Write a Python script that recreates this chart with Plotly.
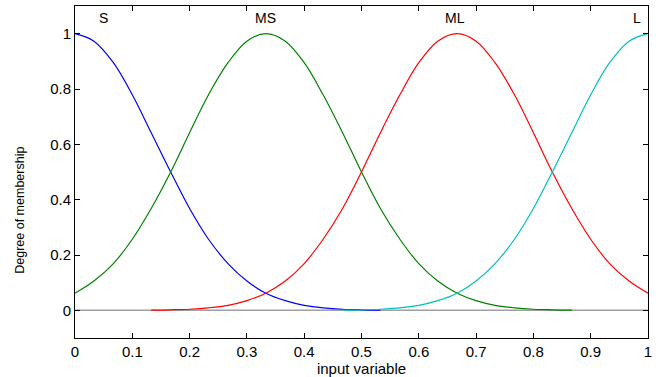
import plotly.graph_objects as go

x_vals = [0, 0.033, 0.067, 0.1, 0.133, 0.167, 0.2, 0.233, 0.267, 0.3,
          0.333, 0.367, 0.4, 0.433, 0.467, 0.5, 0.533, 0.567, 0.6, 0.633,
          0.667, 0.7, 0.733, 0.767, 0.8, 0.833, 0.867, 0.9, 0.933, 0.967, 1.0]

mf_S = [1.0, 0.973, 0.895, 0.779, 0.642, 0.5, 0.368, 0.257, 0.169, 0.106,
        0.062, 0.035, 0.018, 0.009, 0.004, 0.002, 0.001, None, None, None,
        None, None, None, None, None, None, None, None, None, None, None]
mf_MS = [0.062, 0.106, 0.169, 0.257, 0.368, 0.5, 0.642, 0.779, 0.895, 0.973,
         1.0, 0.973, 0.895, 0.779, 0.642, 0.5, 0.368, 0.257, 0.169, 0.106,
         0.062, 0.035, 0.018, 0.009, 0.004, 0.002, 0.001, None, None, None, None]
mf_ML = [None, None, None, None, 0.001, 0.002, 0.004, 0.009, 0.018, 0.035,
         0.062, 0.106, 0.169, 0.257, 0.368, 0.5, 0.642, 0.779, 0.895, 0.973,
         1.0, 0.973, 0.895, 0.779, 0.642, 0.5, 0.368, 0.257, 0.169, 0.106, 0.062]
mf_L = [None, None, None, None, None, None, None, None, None, None,
        None, None, None, None, 0.001, 0.002, 0.004, 0.009, 0.018, 0.035,
        0.062, 0.106, 0.169, 0.257, 0.368, 0.5, 0.642, 0.779, 0.895, 0.973, 1.0]

mf_names = ["S", "MS", "ML", "L"]
mf_colors = ["#0000ff", "#008000", "#ff0000", "#00bfbf"]
label_x = [0.05, 0.333, 0.663, 0.98]
label_y = 1.055

x_ticks = [0, 0.1, 0.2, 0.3, 0.4, 0.5, 0.6, 0.7, 0.8, 0.9, 1]
x_ticktext = ["0", "0.1", "0.2", "0.3", "0.4", "0.5", "0.6", "0.7", "0.8", "0.9", "1"]
y_ticks = [0, 0.2, 0.4, 0.6, 0.8, 1]
y_ticktext = ["0", "0.2", "0.4", "0.6", "0.8", "1"]

FONT = "Liberation Sans, Arial"

fig = go.Figure()
fig.add_trace(go.Scatter(x=[0, 1], y=[0, 0], mode="lines",
                         line=dict(color="#a0a0a0", width=1.5), showlegend=False, hoverinfo="skip"))
for name, vals, col in zip(mf_names, [mf_S, mf_MS, mf_ML, mf_L], mf_colors):
    fig.add_trace(go.Scatter(x=x_vals, y=vals, mode="lines", name=name,
                             line=dict(color=col, width=1.2, shape="spline", smoothing=1.0),
                             connectgaps=False, showlegend=False))

for name, lx in zip(mf_names, label_x):
    fig.add_annotation(x=lx, y=label_y, text=name, showarrow=False,
                       font=dict(family=FONT, size=14, color="black"))

# y-axis title placed as rotated text (matches reference position)
fig.add_annotation(xref="paper", yref="paper", x=-0.095, y=0.385, text="Degree of membership",
                   textangle=-90, showarrow=False, xanchor="center", yanchor="middle",
                   font=dict(family=FONT, size=12.5, color="black"))

axis_common = dict(showline=True, linecolor="black", linewidth=1, mirror="allticks",
                   ticks="inside", ticklen=5, tickcolor="black", showgrid=False, zeroline=False,
                   tickfont=dict(family=FONT, size=15, color="black"))

fig.update_xaxes(range=[0, 1], tickvals=x_ticks, ticktext=x_ticktext,
                 title=dict(text="input variable", standoff=1,
                            font=dict(family=FONT, size=15, color="black")),
                 **axis_common)
fig.update_yaxes(range=[-0.1, 1.1], tickvals=y_ticks, ticktext=y_ticktext, **axis_common)

fig.update_layout(width=659, height=377, margin=dict(l=75, r=11, t=5, b=36),
                  plot_bgcolor="white", paper_bgcolor="white")

fig.write_html("out.html")
